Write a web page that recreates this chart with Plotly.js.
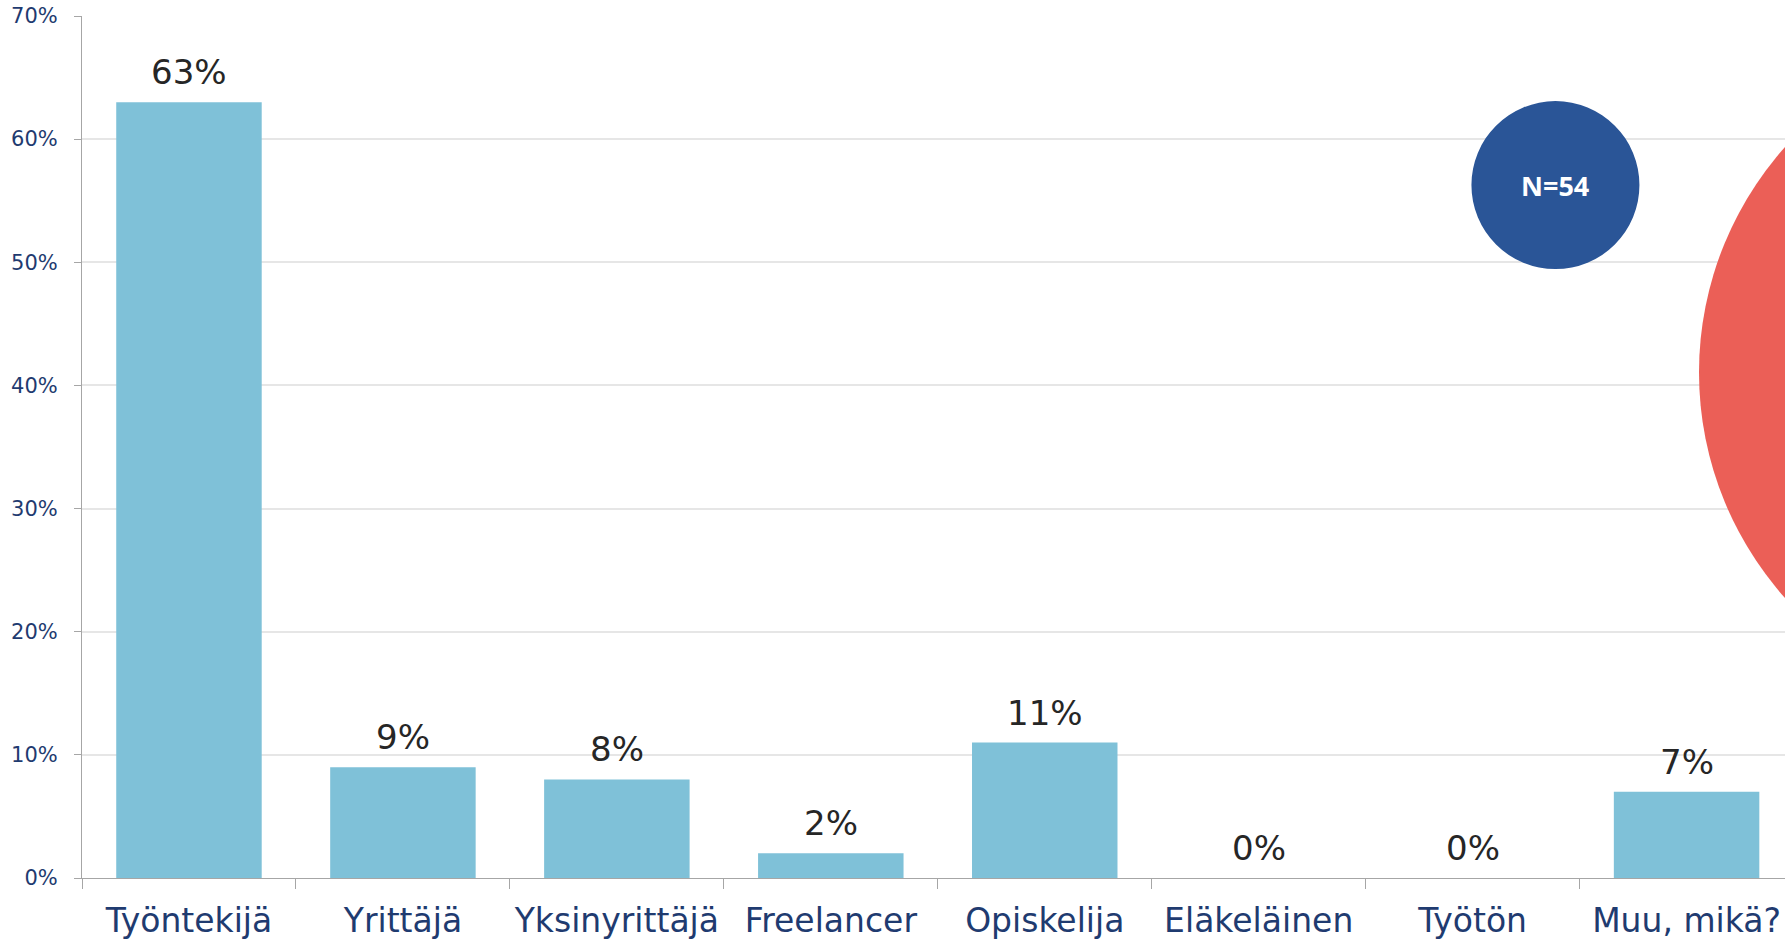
<!DOCTYPE html>
<html>
<head>
<meta charset="utf-8">
<script src="https://cdn.plot.ly/plotly-3.0.1.min.js"></script>
<style>
  html, body { margin: 0; padding: 0; background: #fff; overflow: hidden; }
  #chart { width: 1785px; height: 941px; }
</style>
</head>
<body>
<div id="chart"></div>
<script>
const categories = ["Työntekijä", "Yrittäjä", "Yksinyrittäjä", "Freelancer", "Opiskelija", "Eläkeläinen", "Työtön", "Muu, mikä?"];
const shares = [63, 9, 8, 2, 11, 0, 0, 7];
const sampleLabel = "N=54";

const navy = "#1F3B70";

const labels = categories.map((c, i) => ({
  x: c,
  y: shares[i],
  xref: "x",
  yref: "y",
  text: shares[i] + "%",
  showarrow: false,
  yanchor: "bottom",
  yshift: 8,
  font: { family: "DejaVu Sans, Verdana, sans-serif", size: 34, color: "#262626" },
}));

// N badge in the top right
labels.push({
  x: 0.8652,
  y: 0.8039,
  xref: "paper",
  yref: "paper",
  xanchor: "center",
  yanchor: "middle",
  text: "<b>" + sampleLabel + "</b>",
  showarrow: false,
  font: { family: "Open Sans, sans-serif", size: 27, color: "#ffffff" },
});

Plotly.newPlot("chart", [{
  type: "bar",
  x: categories,
  y: shares,
  marker: { color: "#7FC1D8" },
  hoverinfo: "skip",
}], {
  width: 1785,
  height: 941,
  margin: { l: 82, r: 0, t: 16, b: 63 },
  paper_bgcolor: "#ffffff",
  plot_bgcolor: "#ffffff",
  showlegend: false,
  bargap: 0.32,
  xaxis: {
    type: "category",
    range: [-0.5, 7.46],
    tickson: "boundaries",
    ticks: "outside",
    ticklen: 10,
    tickcolor: "#A6A6A6",
    tickangle: 0,
    showline: true,
    linecolor: "#A6A6A6",
    showgrid: false,
    tickfont: { family: "DejaVu Sans, Verdana, sans-serif", size: 33, color: navy },
    ticklabelstandoff: 13,
  },
  yaxis: {
    range: [0, 70],
    dtick: 10,
    ticksuffix: "%",
    ticks: "outside",
    ticklen: 7,
    tickcolor: "#A6A6A6",
    showline: true,
    linecolor: "#A6A6A6",
    gridcolor: "#E6E6E6",
    gridwidth: 2,
    zeroline: false,
    tickfont: { family: "DejaVu Sans, Verdana, sans-serif", size: 21, color: navy },
    ticklabelstandoff: 12,
  },
  shapes: [
    {
      type: "circle", xref: "paper", yref: "paper",
      xsizemode: "pixel", ysizemode: "pixel",
      xanchor: 0.8652, yanchor: 0.8039,
      x0: -84, x1: 84, y0: -84, y1: 84,
      fillcolor: "#2A5597", line: { width: 0 },
    },
    {
      type: "circle", xref: "paper", yref: "paper",
      xsizemode: "pixel", ysizemode: "pixel",
      xanchor: (2037.6 - 82) / 1703, yanchor: (878 - 372.5) / 862,
      x0: -338.6, x1: 338.6, y0: -338.6, y1: 338.6,
      fillcolor: "#EB5F57", line: { width: 0 },
    },
  ],
  annotations: labels,
}, { displayModeBar: false, staticPlot: true });
</script>
</body>
</html>
